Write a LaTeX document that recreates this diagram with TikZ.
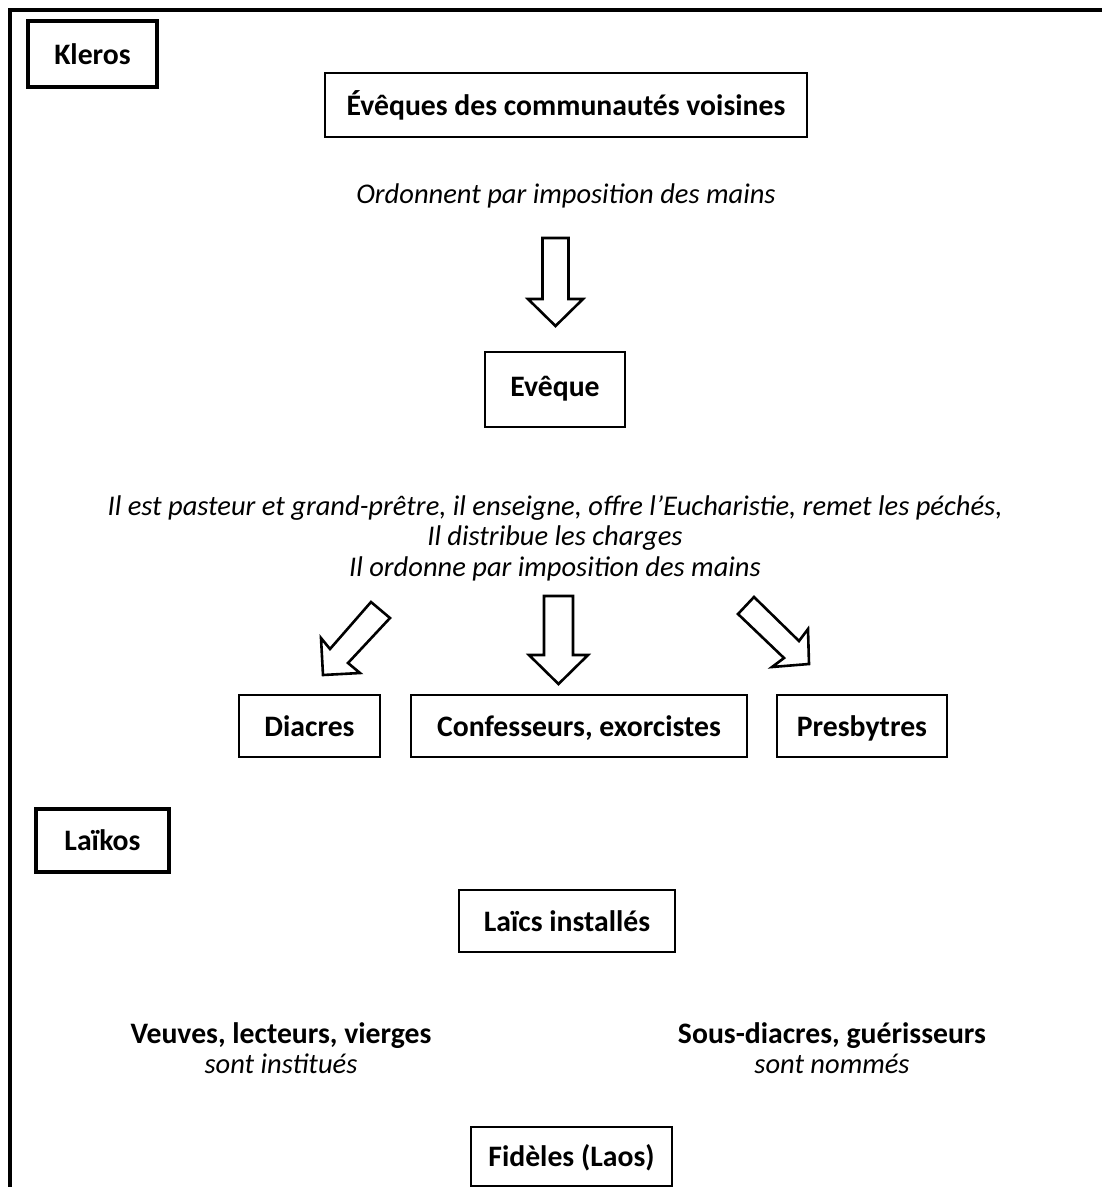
\documentclass[tikz,border=0pt]{standalone}
\usepackage{fontspec}
\setmainfont{Carlito}
\newcommand{\bfbig}{\fontsize{29.7}{35}\selectfont\upshape\bfseries}
\newcommand{\itnorm}{\fontsize{28.5}{30.5}\selectfont\itshape}
\begin{document}
\begin{tikzpicture}[x=1pt,y=-1pt,
  box/.style={draw, line width=1.6pt, inner sep=0pt, font=\bfbig, text height=20pt, text depth=0pt},
  thickbox/.style={draw, line width=4pt, inner sep=0pt, font=\bfbig, text height=20pt, text depth=0pt},
  note/.style={inner sep=0pt, align=center, font=\itnorm},
  blockarrow/.style={draw, line width=2.6pt, fill=white, line join=miter}]
\useasboundingbox (0,0) rectangle (1102,1187);
% outer frame (top and left sides)
\coordinate (fbl) at (9.5,1187);
\coordinate (ftl) at (9.5,9.5);
\coordinate (ftr) at (1102,9.5);
\draw[line width=4pt] (fbl) -- (ftl) -- (ftr);

% boxes
\node[thickbox, minimum width=129pt, minimum height=66pt] (kleros) at (92.5,54) {Kleros};
\node[box, minimum width=482pt, minimum height=64pt] (eveques) at (566,105) {Évêques des communautés voisines};
\node[box, minimum width=140pt, minimum height=75pt, text depth=6pt] (eveque) at (555,389.5) {Evêque};
\node[box, minimum width=141pt, minimum height=62pt] (diacres) at (309.5,726) {Diacres};
\node[box, minimum width=336pt, minimum height=62pt] (confess) at (579,726) {Confesseurs, exorcistes};
\node[box, minimum width=170pt, minimum height=62pt] (presb) at (862,726) {Presbytres};
\node[thickbox, minimum width=133pt, minimum height=63pt] (laikos) at (102.5,840.5) {Laïkos};
\node[box, minimum width=216pt, minimum height=62pt] (laics) at (567,921) {Laïcs installés};
\node[box, minimum width=201pt, minimum height=59pt] (fideles) at (571.5,1156.5) {Fidèles (Laos)};

% texts
\node[note] (ordonnent) at (566,196) {Ordonnent par imposition des mains};
\node[note] (roles) at (555,538) {Il est pasteur et grand-prêtre, il enseigne, offre l’Eucharistie, remet les péchés,\\Il distribue les charges\\Il ordonne par imposition des mains};
\node[note] (veuves) at (281,1048) {{\bfbig Veuves, lecteurs, vierges}\\[-1pt]sont institués};
\node[note] (sous) at (832,1048) {{\bfbig Sous-diacres, guérisseurs}\\[-1pt]sont nommés};

% block arrows
\draw[blockarrow] (542.5,238) -- (568.5,238) -- (568.5,299) -- (583,299) -- (555.5,326) -- (528,299) -- (542.5,299) -- cycle;
\draw[blockarrow] (544,596) -- (573,596) -- (573,655) -- (588,655) -- (558.5,684) -- (529,655) -- (544,655) -- cycle;
\draw[blockarrow] (371,602) -- (390,618) -- (348,663) -- (360,673) -- (323,675) -- (321,638) -- (330,649) -- cycle;
\draw[blockarrow] (738,614) -- (754,597) -- (799,641) -- (808,629) -- (809,664) -- (772,667) -- (784,658) -- cycle;
\end{tikzpicture}
\end{document}
